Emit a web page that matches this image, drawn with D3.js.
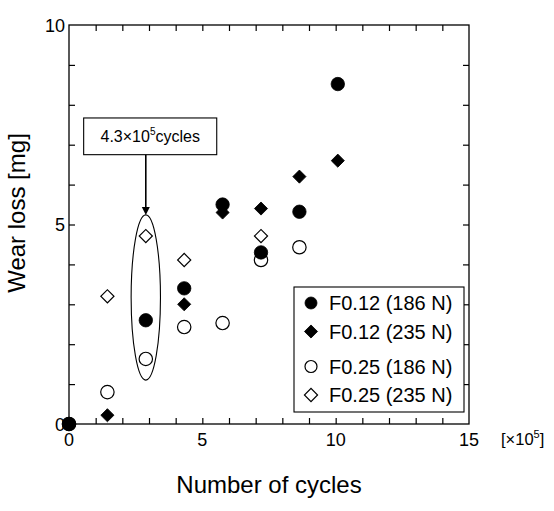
<!DOCTYPE html>
<html>
<head>
<meta charset="utf-8">
<script src="https://cdn.jsdelivr.net/npm/d3@7"></script>
<style>
  body { margin: 0; background: #fff; }
  svg { font-family: "Liberation Sans", Arial, sans-serif; }
</style>
</head>
<body>
<svg id="chart"></svg>
<script>
// cycles in units of 1e5, wear loss in mg
const f012_186 = [[0, 0], [2.88, 2.6], [4.32, 3.4], [5.76, 5.5], [7.2, 4.3], [8.64, 5.32], [10.08, 8.52]];
const f012_235 = [[0, 0], [1.44, 0.22], [4.32, 3.0], [5.76, 5.3], [7.2, 5.4], [8.64, 6.2], [10.08, 6.6]];
const f025_186 = [[0, 0], [1.44, 0.8], [2.88, 1.63], [4.32, 2.43], [5.76, 2.53], [7.2, 4.11], [8.64, 4.43]];
const f025_235 = [[1.44, 3.2], [2.88, 4.71], [4.32, 4.11], [7.2, 4.71]];

const series = [
    { name: "F0.12 (186 N)", data: f012_186, shape: "circle", filled: true },
    { name: "F0.12 (235 N)", data: f012_235, shape: "diamond", filled: true },
    { name: "F0.25 (186 N)", data: f025_186, shape: "circle", filled: false },
    { name: "F0.25 (235 N)", data: f025_235, shape: "diamond", filled: false }
];
// draw order: open ones first so filled markers sit on top at the origin
const drawOrder = [3, 2, 1, 0];

const xTicks = [0, 5, 10, 15];
const yTicks = [0, 5, 10];

const width = 554, height = 511;
const margin = { top: 25, right: 85, bottom: 87, left: 69 };
const w = width - margin.left - margin.right;
const h = height - margin.top - margin.bottom;

const svg = d3.select("#chart").attr("width", width).attr("height", height);
const g = svg.append("g").attr("transform", `translate(${margin.left},${margin.top})`);

const x = d3.scaleLinear().domain([0, 15]).range([0, w]);
const y = d3.scaleLinear().domain([0, 10]).range([h, 0]);

// frame + inward ticks on all four sides
g.append("rect").attr("width", w).attr("height", h)
    .attr("fill", "none").attr("stroke", "#000").attr("stroke-width", 1.3);

const minorX = d3.range(1, 15);
const minorY = d3.range(1, 10);
const tickLen = 6;
g.append("g").attr("transform", `translate(0,${h})`)
    .call(d3.axisBottom(x).tickValues(minorX).tickSize(-tickLen).tickFormat(""))
    .call(a => a.select(".domain").remove());
g.append("g")
    .call(d3.axisTop(x).tickValues(minorX).tickSize(-tickLen).tickFormat(""))
    .call(a => a.select(".domain").remove());
g.append("g")
    .call(d3.axisLeft(y).tickValues(minorY).tickSize(-tickLen).tickFormat(""))
    .call(a => a.select(".domain").remove());
g.append("g").attr("transform", `translate(${w},0)`)
    .call(d3.axisRight(y).tickValues(minorY).tickSize(-tickLen).tickFormat(""))
    .call(a => a.select(".domain").remove());
g.selectAll(".tick line").attr("stroke-width", 1.2);

// tick labels
g.selectAll(".xlab").data(xTicks).join("text")
    .attr("x", d => x(d)).attr("y", h + 22)
    .attr("text-anchor", "middle").attr("font-size", 18)
    .text(d => d);
g.selectAll(".ylab").data(yTicks).join("text")
    .attr("x", -4).attr("y", d => y(d) + 6.5)
    .attr("text-anchor", "end").attr("font-size", 18)
    .text(d => d);

const unit = g.append("text").attr("x", w + 32).attr("y", h + 21).attr("font-size", 16.5);
unit.append("tspan").text("[×10");
unit.append("tspan").attr("font-size", 11).attr("dy", -7).text("5");
unit.append("tspan").attr("dy", 7).text("]");

// axis titles
svg.append("text").attr("x", 269).attr("y", 493)
    .attr("text-anchor", "middle").attr("font-size", 24)
    .text("Number of cycles");
svg.append("text").attr("transform", "translate(25,213) rotate(-90)")
    .attr("text-anchor", "middle").attr("font-size", 24)
    .text("Wear loss [mg]");

// markers
const diamond = d3.symbol(d3.symbolSquare, 86);
function drawMarker(sel, s, r) {
    if (s.shape === "circle") {
        sel.append("circle").attr("r", r);
    } else {
        sel.append("path").attr("d", diamond()).attr("transform", "rotate(45)");
    }
    sel.selectAll("circle,path")
        .attr("fill", s.filled ? "#000" : "#fff")
        .attr("stroke", "#000")
        .attr("stroke-width", s.filled ? 0.8 : 1.2);
}

// annotation: ellipse around the 2.88 points, label box and arrow
const ell = { cx: 2.88, cy: 3.17, rx: 0.55, ry: 2.07 };
g.append("ellipse")
    .attr("cx", x(ell.cx)).attr("cy", y(ell.cy))
    .attr("rx", x(ell.rx) - x(0)).attr("ry", y(0) - y(ell.ry))
    .attr("fill", "none").attr("stroke", "#000").attr("stroke-width", 1.1);

drawOrder.forEach(i => {
    const s = series[i];
    g.selectAll(null).data(s.data).join("g")
        .attr("transform", d => `translate(${x(d[0])},${y(d[1])})`)
        .each(function () { drawMarker(d3.select(this), s, 6.7); });
});

const box = { x0: 0.55, x1: 5.54, y0: 7.67, y1: 6.75 };
g.append("rect")
    .attr("x", x(box.x0)).attr("y", y(box.y0))
    .attr("width", x(box.x1) - x(box.x0)).attr("height", y(box.y1) - y(box.y0))
    .attr("fill", "#fff").attr("stroke", "#000").attr("stroke-width", 1.1);
const ann = g.append("text")
    .attr("x", (x(box.x0) + x(box.x1)) / 2).attr("y", (y(box.y0) + y(box.y1)) / 2 + 6)
    .attr("text-anchor", "middle").attr("font-size", 16);
ann.append("tspan").text("4.3×10");
ann.append("tspan").attr("font-size", 10).attr("dy", -7).text("5");
ann.append("tspan").attr("dy", 7).text("cycles");

const tipY = y(ell.cy + ell.ry);
g.append("line")
    .attr("x1", x(ell.cx)).attr("x2", x(ell.cx))
    .attr("y1", y(box.y1)).attr("y2", tipY - 6)
    .attr("stroke", "#000").attr("stroke-width", 1.6);
g.append("path")
    .attr("d", `M${x(ell.cx) - 4},${tipY - 8}L${x(ell.cx) + 4},${tipY - 8}L${x(ell.cx)},${tipY}Z`)
    .attr("fill", "#000");

// legend
const legend = svg.append("g").attr("transform", "translate(294,287)");
legend.append("rect").attr("width", 170).attr("height", 125)
    .attr("fill", "#fff").attr("stroke", "#000").attr("stroke-width", 1.1);
const rowY = [16, 44.5, 79.5, 108];
series.forEach((s, i) => {
    const row = legend.append("g").attr("transform", `translate(17,${rowY[i]})`);
    drawMarker(row, s, 6);
    legend.append("text").attr("x", 35).attr("y", rowY[i] + 7)
        .attr("font-size", 20).text(s.name);
});
</script>
</body>
</html>
